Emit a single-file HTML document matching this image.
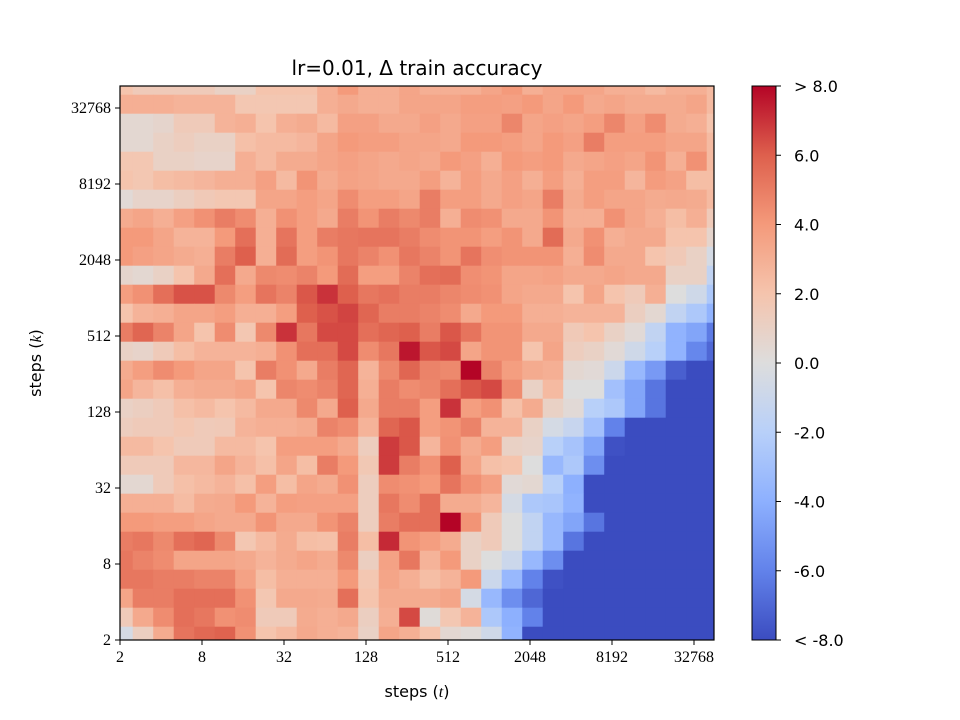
<!DOCTYPE html>
<html><head><meta charset="utf-8">
<style>
html,body{margin:0;padding:0;background:#fff;}
svg{display:block;}
.serif{font-family:"Liberation Serif","DejaVu Serif",serif;}
.sans{font-family:"DejaVu Sans","Liberation Sans",sans-serif;}
</style></head>
<body>
<svg id="chart" width="960" height="720" viewBox="0 0 960 720" xmlns="http://www.w3.org/2000/svg">
  <rect x="0" y="0" width="960" height="720" fill="#fff"/>
  <g id="cells"></g>
  <rect x="120" y="86" width="594" height="554" fill="none" stroke="#000" stroke-width="1.2"/>
  <g id="xticks"></g>
  <g id="yticks"></g>
  <text x="417" y="75" text-anchor="middle" font-size="20" class="sans">lr=0.01, Δ train accuracy</text>
  <text x="417" y="697" text-anchor="middle" font-size="16" class="sans">steps (<tspan class="serif" font-style="italic">t</tspan>)</text>
  <text transform="translate(41,363) rotate(-90)" text-anchor="middle" font-size="16" class="sans">steps (<tspan class="serif" font-style="italic">k</tspan>)</text>
  <defs>
    <linearGradient id="cbgrad" x1="0" y1="1" x2="0" y2="0">
      <stop offset="0" stop-color="rgb(59,76,192)"/>
      <stop offset="0.125" stop-color="rgb(98,130,234)"/>
      <stop offset="0.25" stop-color="rgb(141,176,254)"/>
      <stop offset="0.375" stop-color="rgb(184,208,249)"/>
      <stop offset="0.5" stop-color="rgb(221,221,221)"/>
      <stop offset="0.625" stop-color="rgb(245,196,173)"/>
      <stop offset="0.75" stop-color="rgb(244,154,123)"/>
      <stop offset="0.875" stop-color="rgb(222,96,77)"/>
      <stop offset="1" stop-color="rgb(180,4,38)"/>
    </linearGradient>
  </defs>
  <rect x="752" y="86" width="24" height="554" fill="url(#cbgrad)" stroke="#000" stroke-width="1"/>
  <g id="cbticks"></g>
</svg>
<script>
const xTickValues = [2, 8, 32, 128, 512, 2048, 8192, 32768];
const yTickValues = [2, 8, 32, 128, 512, 2048, 8192, 32768];
const cbTickValues = [8, 6, 4, 2, 0, -2, -4, -6, -8];
const cbTickLabels = ["> 8.0", "6.0", "4.0", "2.0", "0.0", "-2.0", "-4.0", "-6.0", "< -8.0"];
// rows listed from top (largest k) to bottom (k=2); 30 columns each, t increasing
const row00 = [2,1.5,1.5,1.5,1.5,1,1,2,2,2,3,4,3,3,3.5,3,3,3,3.5,4,3,3.5,3.5,3.5,3,3,2.5,3,3,2.5];
const row01 = [3,3,3,2.8,2.8,2.8,1.8,1.8,1.8,1.8,3,3.3,3,3,3.5,3.5,3.5,3.8,3.8,3.7,4,3.5,4,3.3,3.5,3.2,3.2,3.2,3.5,2.5];
const row02 = [0.5,0.5,0.7,1.5,1.5,2.8,3,2,3,3.2,2.5,3.7,3.7,3.3,3.3,3.7,3.3,3.7,3.7,4.7,3.5,3.7,3.5,3.8,4.7,3.7,4.5,3.2,3,2];
const row03 = [0.5,0.5,1,1.3,1,1,2.2,2.5,2.5,2.7,3.5,4,3.8,3.8,3.5,3.5,3.3,4,4,3.8,3.5,4,3.7,5,3.8,3.8,3.8,3.5,3.5,2.5];
const row04 = [1.8,1.8,1,1,0.8,0.8,3,2.5,3.2,3.2,3.5,3.7,3.5,3.3,3.5,3.3,4,3.7,3,4,3.8,4,3.3,3.5,3.7,3.5,4.2,3,4.3,2.5];
const row05 = [2,1.8,2.3,2.5,2.7,3,3,3.7,2.5,4.2,3.2,3.6,3.5,3.3,3.3,3.8,2.8,3.8,3.3,3.7,3,3.8,3,3.8,3.8,2.7,3.9,3.6,2.3,2.3];
const row06 = [0.3,0.8,0.8,1.2,1.6,1.8,1.8,3.5,3.5,3.8,3.5,4.5,3.8,3.8,3.5,5,3.8,3.8,3.3,3.7,3.5,5,3.2,3.8,3.5,3.5,3.2,3.3,3.2,2.5];
const row07 = [3.2,3.5,3,3.7,4.3,5,4.5,3,4.3,3.8,3.3,5,4.2,5,4.6,5,3,4.5,4.3,3.3,3.3,4.2,3,3,4.3,3.5,3,2.3,3,1.5];
const row08 = [4,4,3.5,2.8,2.8,4,5.5,3,5.3,3.8,5,5.2,5.3,5.3,5,4.5,4.2,4.2,3.8,4.2,3.3,5.6,3.3,4.3,3,3.3,3.3,2,2,0.7];
const row09 = [4,3.7,3.5,3.2,3,5,6,3,5.6,3.8,4.2,5.2,4.8,4.3,5.2,4.8,4.2,5.3,4.4,4.2,4.2,4.2,3,4.5,3.3,3.3,2,1.6,1,-0.5];
const row10 = [0.7,0.5,1,2,3.3,5.5,3.3,4.6,4.5,4.8,4,5.6,3.8,3.8,4.8,5.5,5.6,4.4,4.2,3.5,3.5,3.6,3.3,3.3,3.5,3.3,3.3,1,1,-1.5];
const row11 = [3.8,4.3,5.5,6.3,6.3,4.6,3.8,5.3,4.8,6.2,7,6,5.2,5.4,5,5,4.7,4.5,4.3,3.5,3.3,3.3,2,3.5,2,1.5,3,0,-0.8,-2.5];
const row12 = [2,2.8,3,3.5,3.5,3.8,3,3,3.8,6,6.3,6.6,5.8,5,5,4.8,4.5,3.3,4,4,3,3,2.8,2.8,2.8,1.2,0.5,-1.5,-2.5,-3.8];
const row13 = [5,5.8,4.8,3.5,2,4.5,1.8,4.6,7,5.2,6.5,6.5,5.5,5.8,6,5,6.2,5.3,4.2,4.2,3.3,3.3,1.6,2,1,0.3,-1.5,-3.8,-4.5,-6.3];
const row14 = [1,0.8,1.5,2.3,2.8,2.8,2.8,3,4.3,5.5,5.5,6.5,4.5,5.2,7.6,6.2,6.5,3.5,4.2,4.2,2,3.5,1.3,1,0.3,-0.8,-2,-3.8,-5.8,-7];
const row15 = [3.2,3.8,4.5,4,3.5,3.5,2,5,4.3,3.3,5,5.8,2.8,4.6,5.8,4.8,4.6,8,4.8,3.8,3.2,3,0.5,0.3,-1,-3.5,-5,-7.3,-8,-8];
const row16 = [3.5,2.7,2.2,3,3.2,3.2,3.5,2,4.7,4.5,4.8,5.8,3,5,4.5,4.7,5.5,6.2,6.5,4.5,1,2.5,0,0,-3,-4.5,-6.5,-8,-8,-8];
const row17 = [1,1.2,1.5,2.2,2.5,2,2.5,3.3,3.3,4.6,3.3,6,3.3,5,5,3.8,7,3.8,4.3,2.2,3.2,1,0.3,-2,-2.5,-4.5,-6.5,-8,-8,-8];
const row18 = [1.3,1.5,1.5,1.8,1.5,1.6,2.8,3,3,3.2,4.8,4.5,2.8,5.8,6.2,3.8,4.2,4.8,2.8,2.8,1,-0.5,-1.2,-3,-6,-8,-8,-8,-8,-8];
const row19 = [2.5,2.5,2,1.5,1.5,2.5,2.5,2,3.8,3.8,3.8,3.3,1.3,6.8,6.2,2.7,4.3,3.2,3.8,1,0.8,-2,-2.8,-4.5,-7.8,-8,-8,-8,-8,-8];
const row20 = [1.5,1.5,1.5,2.6,2.6,3.5,2.8,2.2,3.5,2.3,5,4,1.7,6.8,5,4.3,6,3.5,2.2,2,0,-3.5,-2.5,-5.5,-8,-8,-8,-8,-8,-8];
const row21 = [0.5,0.5,1.5,2.2,2.5,2.8,2.2,3.8,2.3,3.5,3.2,4.3,1.3,4.5,4.3,4,5.3,4.3,3.7,0.3,0.5,-2,-4,-8,-8,-8,-8,-8,-8,-8];
const row22 = [3,3,3,2.4,3.2,3.3,4,2.8,3.8,3.7,3.7,3.7,1.3,5.2,4.5,5.5,3.2,3.2,2.7,-0.5,-2.5,-2.7,-3.8,-8,-8,-8,-8,-8,-8,-8];
const row23 = [4,4,3.8,3.8,3.5,3.3,3.3,4.2,3.3,3.3,4.2,4.8,1.3,5,5.5,5.5,8,4.2,1.5,0,-1.5,-3.5,-4.5,-6.5,-8,-8,-8,-8,-8,-8];
const row24 = [5,5.2,4.6,5.5,5.8,4.6,1.8,2.5,3.2,2.3,2.2,5,2.3,7.2,4.2,3.8,3.2,1,1.5,0,-1.5,-3.5,-6.5,-8,-8,-8,-8,-8,-8,-8];
const row25 = [5.2,4.8,4.5,3.5,3.5,3.5,3.3,2.8,3.2,3.5,3.2,4.6,1.2,3.6,5.2,2.8,4,1,0,-1,-3.5,-5.5,-8,-8,-8,-8,-8,-8,-8,-8];
const row26 = [5.2,5.2,5,5,4.8,4.8,3.6,2.3,3,3,3,4,1.8,3.5,3,2.3,2.8,4,-1,-3.5,-6,-7.8,-8,-8,-8,-8,-8,-8,-8,-8];
const row27 = [3.5,5,5,5.5,5.5,5.5,4.3,1.8,3.3,3.3,3.2,5.5,2,3.2,3.2,3.2,3.5,-0.5,-3.5,-5.5,-7,-8,-8,-8,-8,-8,-8,-8,-8,-8];
const row28 = [1.5,3.3,4.5,5.5,5.2,4.3,4.5,1.5,1.5,3.2,3,3.3,1.2,3,6.5,0.2,1.8,2.8,-2.5,-4,-6,-8,-8,-8,-8,-8,-8,-8,-8,-8];
const row29 = [-0.5,1.2,3.2,5.3,5.7,5.9,4.3,2,2.5,3.3,3,2.8,1,3.5,3,2,0.5,0.2,-0.8,-3.8,-8,-8,-8,-8,-8,-8,-8,-8,-8,-8];
const rows = [row00,row01,row02,row03,row04,row05,row06,row07,row08,row09,row10,row11,row12,row13,row14,row15,row16,row17,row18,row19,row20,row21,row22,row23,row24,row25,row26,row27,row28,row29];

const NS = "http://www.w3.org/2000/svg";
const PL = 120, PR = 714, PT = 86, PB = 640;
const xPxPerOct = 41, yPxPerOct = 38;
function xScale(l2) { return PL + xPxPerOct * (l2 - 1); }   // l2 = log2(steps)
function yScale(l2) { return PB - yPxPerOct * (l2 - 1); }
const xMaxL2 = 1 + (PR - PL) / xPxPerOct, yMaxL2 = 1 + (PB - PT) / yPxPerOct;
function colEdges(i) { // log2 edges of column i
  let lo = i === 0 ? 1 : 1.31 + 0.5 * (i - 1);
  let hi = 1.31 + 0.5 * i;
  return [lo, Math.min(hi, xMaxL2)];
}
function rowEdges(j) { // j from bottom
  let lo = j === 0 ? 1 : 1.35 + 0.5 * (j - 1);
  let hi = 1.35 + 0.5 * j;
  return [lo, Math.min(hi, yMaxL2)];
}
const stops = [[59,76,192],[98,130,234],[141,176,254],[184,208,249],[221,221,221],[245,196,173],[244,154,123],[222,96,77],[180,4,38]];
function color(v) {
  let t = Math.max(0, Math.min(1, (v + 8) / 16)) * 8;
  let k = Math.min(7, Math.floor(t)), f = t - k;
  const a = stops[k], b = stops[k + 1];
  return "rgb(" + a.map((c, n) => Math.round(c + (b[n] - c) * f)).join(",") + ")";
}
const cells = document.getElementById("cells");
const nR = rows.length;
rows.forEach((row, r) => {
  const j = nR - 1 - r;
  const [ylo, yhi] = rowEdges(j);
  row.forEach((v, i) => {
    const [xlo, xhi] = colEdges(i);
    const rect = document.createElementNS(NS, "rect");
    const x0 = xScale(xlo), x1 = xScale(xhi), y0 = yScale(yhi), y1 = yScale(ylo);
    rect.setAttribute("x", x0.toFixed(2));
    rect.setAttribute("y", y0.toFixed(2));
    rect.setAttribute("width", (x1 - x0 + 0.4).toFixed(2));
    rect.setAttribute("height", (y1 - y0 + 0.4).toFixed(2));
    rect.setAttribute("fill", color(v));
    
    
    cells.appendChild(rect);
  });
});
const xt = document.getElementById("xticks");
xTickValues.forEach(v => {
  const x = xScale(Math.log2(v));
  const ln = document.createElementNS(NS, "line");
  ln.setAttribute("x1", x); ln.setAttribute("x2", x);
  ln.setAttribute("y1", PB); ln.setAttribute("y2", PB + 5);
  ln.setAttribute("stroke", "#000");
  
  
  xt.appendChild(ln);
  const tx = document.createElementNS(NS, "text");
  tx.setAttribute("x", x); tx.setAttribute("y", PB + 22);
  tx.setAttribute("text-anchor", "middle");
  tx.setAttribute("font-size", "16");
  tx.setAttribute("class", "serif");
  tx.textContent = String(v);
  
  
  xt.appendChild(tx);
});
const yt = document.getElementById("yticks");
yTickValues.forEach(v => {
  const y = yScale(Math.log2(v));
  const ln = document.createElementNS(NS, "line");
  ln.setAttribute("x1", PL - 5); ln.setAttribute("x2", PL);
  ln.setAttribute("y1", y); ln.setAttribute("y2", y);
  ln.setAttribute("stroke", "#000");
  
  
  yt.appendChild(ln);
  const tx = document.createElementNS(NS, "text");
  tx.setAttribute("x", PL - 9); tx.setAttribute("y", y + 5);
  tx.setAttribute("text-anchor", "end");
  tx.setAttribute("font-size", "16");
  tx.setAttribute("class", "serif");
  tx.textContent = String(v);
  
  
  yt.appendChild(tx);
});
const cb = document.getElementById("cbticks");
function cbScale(v) { return PB - (v + 8) / 16 * (PB - PT); }
cbTickValues.forEach((v, n) => {
  const y = cbScale(v);
  const ln = document.createElementNS(NS, "line");
  ln.setAttribute("x1", 776); ln.setAttribute("x2", 781);
  ln.setAttribute("y1", y); ln.setAttribute("y2", y);
  ln.setAttribute("stroke", "#000");
  
  
  cb.appendChild(ln);
  const tx = document.createElementNS(NS, "text");
  tx.setAttribute("x", 794); tx.setAttribute("y", y + 6);
  tx.setAttribute("font-size", "16");
  tx.setAttribute("class", "sans");
  tx.textContent = cbTickLabels[n];
  
  
  cb.appendChild(tx);
});
</script>
</body></html>
